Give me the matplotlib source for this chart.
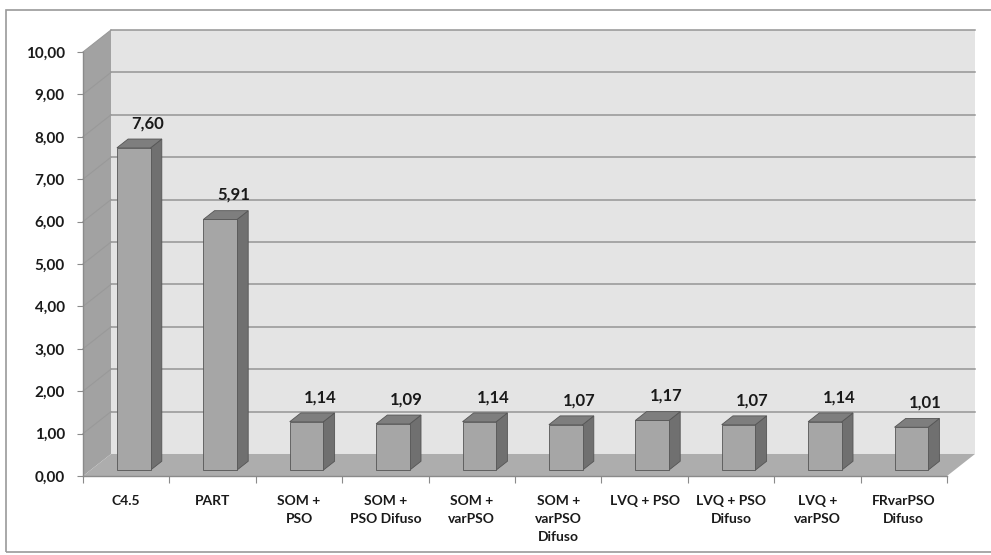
import matplotlib
matplotlib.use('Agg')

import matplotlib.pyplot as plt
from matplotlib.patches import Polygon, Rectangle

# Data
categories = ["C4.5", "PART", "SOM +\nPSO", "SOM +\nPSO Difuso", "SOM +\nvarPSO",
              "SOM +\nvarPSO\nDifuso", "LVQ + PSO", "LVQ + PSO\nDifuso", "LVQ +\nvarPSO",
              "FRvarPSO\nDifuso"]
values = [7.60, 5.91, 1.14, 1.09, 1.14, 1.07, 1.17, 1.07, 1.14, 1.01]
yticks = [0, 1, 2, 3, 4, 5, 6, 7, 8, 9, 10]

plt.rcParams['font.family'] = ['Lato', 'DejaVu Sans']

# Fake 3D: depth offset of the back plane, in data units
DX, DY = 0.324, 0.519
D0, D1 = 0.27, 0.67     # bar depth span (fraction of full depth)
BAR_W = 0.39
YMAX = 10

fig = plt.figure(figsize=(9.91, 5.55), dpi=100)
W, H = 991, 555
fig.patches.append(Rectangle((6 / W, 1 - 552 / H), 1.0, (552 - 10) / H,
                             transform=fig.transFigure, fill=False,
                             edgecolor='#9a9a9a', lw=1.2))

ax = fig.add_axes([83 / W, 1 - 476 / H, (975 - 83) / W, (476 - 30) / H])
n = len(values)
x0, x1 = -0.5, n - 0.5
ax.set_xlim(x0, x1 + DX)
ax.set_ylim(0, YMAX + DY)
ax.patch.set_visible(False)

def poly(pts, fc, ec='none', lw=0, z=1):
    ax.add_patch(Polygon(pts, closed=True, facecolor=fc, edgecolor=ec,
                         lw=lw, zorder=z, clip_on=False))

# walls and floor
poly([(x0 + DX, DY), (x1 + DX, DY), (x1 + DX, YMAX + DY), (x0 + DX, YMAX + DY)], '#e4e4e4')
poly([(x0, 0), (x0 + DX, DY), (x0 + DX, YMAX + DY), (x0, YMAX)], '#a2a2a2')
poly([(x0, 0), (x1, 0), (x1 + DX, DY), (x0 + DX, DY)], '#adadad')

# gridlines on the back and side walls
for t in yticks[1:]:
    ax.plot([x0 + DX, x1 + DX], [t + DY, t + DY], color='#959595', lw=1.1, zorder=2,
            clip_on=False)
    ax.plot([x0, x0 + DX], [t, t + DY], color='#999999', lw=0.8, zorder=2, clip_on=False)

# bars
for i, v in enumerate(values):
    l = i - BAR_W / 2 + D0 * DX
    r = i + BAR_W / 2 + D0 * DX
    b = D0 * DY
    ddx, ddy = (D1 - D0) * DX, (D1 - D0) * DY
    ec = '#555555'
    poly([(r, b), (r + ddx, b + ddy), (r + ddx, b + ddy + v), (r, b + v)], '#707070', ec, 0.6, 3)
    poly([(l, b + v), (r, b + v), (r + ddx, b + v + ddy), (l + ddx, b + v + ddy)], '#7e7e7e', ec, 0.6, 3)
    poly([(l, b), (r, b), (r, b + v), (l, b + v)], '#a6a6a6', ec, 0.6, 4)
    ax.text(i + D1 * DX + 0.03, v + D1 * DY + 0.37, f"{v:.2f}".replace('.', ','),
            ha='center', va='center', fontsize=12, fontweight='bold', color='#1a1a1a',
            zorder=5)

# axes
for s in ['top', 'right']:
    ax.spines[s].set_visible(False)
ax.spines['left'].set_bounds(0, YMAX)
ax.spines['bottom'].set_bounds(x0, x1)
for s in ['left', 'bottom']:
    ax.spines[s].set_color('#8a8a8a')
    ax.spines[s].set_linewidth(1)
    ax.spines[s].set_zorder(6)

ax.set_yticks(yticks)
ax.set_yticklabels([f"{t:.2f}".replace('.', ',') for t in yticks])
ax.tick_params(axis='y', length=4, color='#8a8a8a', pad=9, labelsize=11,
               labelcolor='#1a1a1a')
for lab in ax.get_yticklabels():
    lab.set_fontweight('bold')

ax.set_xticks([x0 + k for k in range(n + 1)])
ax.set_xticklabels([])
ax.set_xticks(range(n), minor=True)
ax.set_xticklabels(categories, minor=True, fontsize=10, fontweight='bold',
                   color='#1a1a1a', linespacing=1.6, va='top')
ax.tick_params(axis='x', which='major', length=5, color='#8a8a8a', direction='out')
ax.tick_params(axis='x', which='minor', length=0, pad=14)

fig.savefig("out.png", dpi=100)
